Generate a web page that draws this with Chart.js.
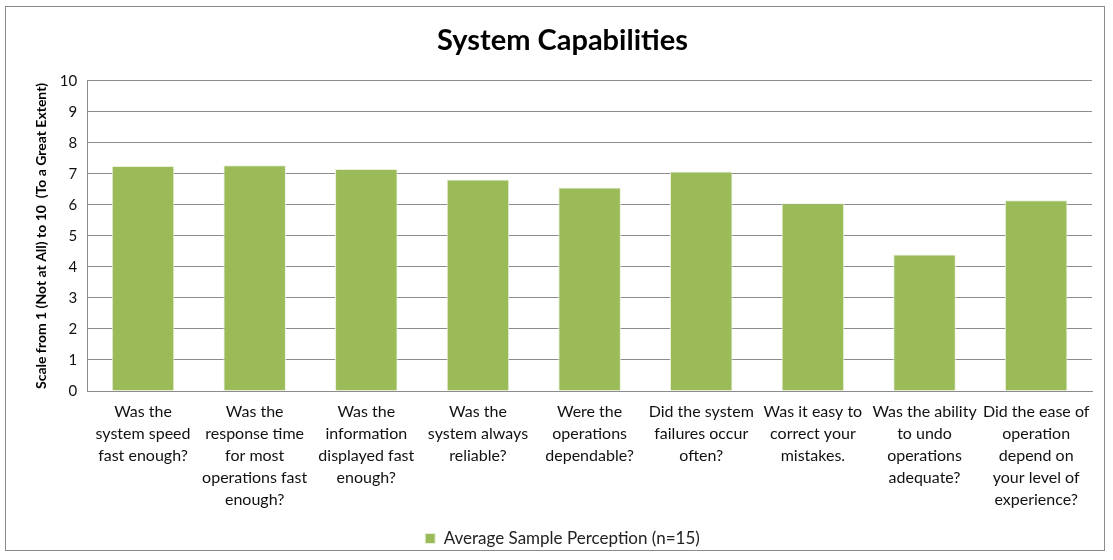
<!DOCTYPE html>
<html>
<head>
<meta charset="utf-8">
<script src="https://cdn.jsdelivr.net/npm/chart.js@4.4.0/dist/chart.umd.min.js"></script>
<style>
    html, body { margin: 0; padding: 0; background: #fff; }
    #frame {
        position: absolute; left: 5px; top: 6px;
        width: 1100px; height: 545px;
        border: 1px solid #8a8a8a; box-sizing: border-box;
    }
    #chart { position: absolute; left: 0; top: 0; }
</style>
</head>
<body>
<div id="frame"><canvas id="chart" width="1098" height="543"></canvas></div>
<script>
// Données du graphique
const questions = [
    ['Was the', 'system speed', 'fast enough?'],
    ['Was the', 'response time', 'for most', 'operations fast', 'enough?'],
    ['Was the', 'information', 'displayed fast', 'enough?'],
    ['Was the', 'system always', 'reliable?'],
    ['Were the', 'operations', 'dependable?'],
    ['Did the system', 'failures occur', 'often?'],
    ['Was it easy to', 'correct your', 'mistakes.'],
    ['Was the ability', 'to undo', 'operations', 'adequate?'],
    ['Did the ease of', 'operation', 'depend on', 'your level of', 'experience?']
];
const averageScores = [7.25, 7.28, 7.16, 6.82, 6.56, 7.08, 6.05, 4.4, 6.15];
const yTicks = [0, 1, 2, 3, 4, 5, 6, 7, 8, 9, 10];

const fontFamily = 'Lato, "Open Sans", sans-serif';

new Chart(document.getElementById('chart'), {
    type: 'bar',
    data: {
        labels: questions,
        datasets: [{
            label: 'Average Sample Perception (n=15)',
            data: averageScores,
            backgroundColor: '#9bbb59',
            borderColor: '#e9f0dc',
            borderWidth: 1,
            categoryPercentage: 0.56,
            barPercentage: 1
        }]
    },
    options: {
        responsive: false,
        animation: false,
        layout: { padding: { left: 27, right: 12, top: 6, bottom: -7 } },
        plugins: {
            title: {
                display: true,
                text: 'System Capabilities',
                color: '#000',
                font: { family: fontFamily, size: 29, weight: 'bold' },
                padding: { top: 10, bottom: 23 }
            },
            legend: {
                position: 'bottom',
                labels: {
                    color: '#222',
                    font: { family: fontFamily, size: 17 },
                    boxWidth: 10,
                    boxHeight: 10,
                    padding: 10
                }
            },
            tooltip: { enabled: false }
        },
        scales: {
            x: {
                grid: { display: false },
                border: { display: true, color: '#8c8c8c' },
                ticks: {
                    color: '#111',
                    font: { family: fontFamily, size: 16, lineHeight: 1.375 },
                    maxRotation: 0,
                    autoSkip: false,
                    padding: 2
                },
                // un peu d'espace en plus sous les libellés
                afterFit: axis => { axis.height += 7; }
            },
            y: {
                min: 0,
                max: 10,
                afterBuildTicks: axis => { axis.ticks = yTicks.map(v => ({ value: v })); },
                grid: { color: '#8c8c8c', drawTicks: false },
                border: { display: true, color: '#8c8c8c' },
                ticks: {
                    color: '#111',
                    font: { family: fontFamily, size: 15 },
                    padding: 10
                },
                title: {
                    display: true,
                    text: 'Scale from 1 (Not at All) to 10  (To a Great Extent)',
                    color: '#000',
                    font: { family: fontFamily, size: 14, weight: 'bold' },
                    padding: { top: 0, bottom: 0 }
                }
            }
        }
    }
});
</script>
</body>
</html>
